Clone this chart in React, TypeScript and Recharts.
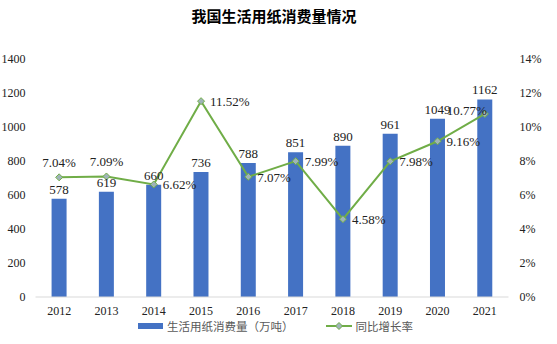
import {
  Bar,
  ComposedChart,
  LabelList,
  Line,
  XAxis,
  YAxis,
} from "recharts";

const years = ["2012", "2013", "2014", "2015", "2016", "2017", "2018", "2019", "2020", "2021"];
const consumption = [578, 619, 660, 736, 788, 851, 890, 961, 1049, 1162];
const growth = [7.04, 7.09, 6.62, 11.52, 7.07, 7.99, 4.58, 7.98, 9.16, 10.77];
const leftTicks = [0, 200, 400, 600, 800, 1000, 1200, 1400];
const rightTicks = [0, 2, 4, 6, 8, 10, 12, 14];
// where each growth label sits relative to its point
const growthLabelPos = ["top", "top", "right", "right", "right", "right", "right", "right", "right", "left"];

const data = years.map((year, i) => ({
  year,
  consumption: consumption[i],
  growth: growth[i],
}));

const serif = '"Times New Roman", "Liberation Serif", serif';
const cjk = '"Noto Sans CJK SC", sans-serif';

const BLUE = "#4472C4";
const GREEN = "#70AD47";

function Diamond(props: any) {
  const { cx, cy } = props;
  if (cx == null || cy == null) return null;
  const r = 3.5;
  return (
    <path
      d={`M${cx},${cy - r}L${cx + r},${cy}L${cx},${cy + r}L${cx - r},${cy}Z`}
      fill="#9fb4b8"
      stroke={GREEN}
      strokeWidth={1}
    />
  );
}

function GrowthLabel(props: any) {
  const { x, y, index, value } = props;
  const pos = growthLabelPos[index];
  let tx = x;
  let ty = y;
  let anchor: "start" | "middle" | "end" = "middle";
  if (pos === "top") {
    ty = y - 13;
  } else if (pos === "right") {
    tx = x + 9;
    ty = y + 2;
    anchor = "start";
  } else {
    tx = x + 2;
    ty = y - 2;
    anchor = "end";
  }
  return (
    <text
      x={tx}
      y={ty}
      textAnchor={anchor}
      dominantBaseline="middle"
      fontFamily={serif}
      fontSize={13}
      fill="#222"
    >
      {`${Number(value).toFixed(2)}%`}
    </text>
  );
}

export default function App() {
  return (
    <div style={{ position: "absolute", left: 0, top: 0, width: 557, height: 344, background: "#fff" }}>
      <div
        style={{
          position: "absolute",
          top: 5,
          left: 0,
          width: 548,
          textAlign: "center",
          fontFamily: cjk,
          fontWeight: 700,
          fontSize: 15,
          color: "#000",
        }}
      >
        我国生活用纸消费量情况
      </div>
      <ComposedChart
        width={557}
        height={344}
        data={data}
        margin={{ top: 59, right: 0, left: 0, bottom: 0 }}
        barCategoryGap="34%"
      >
        <XAxis
          dataKey="year"
          height={47}
          axisLine={{ stroke: "#D9D9D9" }}
          tickLine={false}
          tickSize={0}
          tickMargin={9}
          tick={{ fontFamily: serif, fontSize: 12, fill: "#222" }}
        />
        <YAxis
          yAxisId="left"
          width={35.5}
          domain={[0, 1400]}
          ticks={leftTicks}
          axisLine={false}
          tickLine={false}
          tickSize={0}
          tickMargin={10}
          tick={{ fontFamily: serif, fontSize: 12, fill: "#222" }}
        />
        <YAxis
          yAxisId="right"
          orientation="right"
          width={48.5}
          domain={[0, 14]}
          ticks={rightTicks}
          axisLine={false}
          tickLine={false}
          tickSize={0}
          tickMargin={11}
          tickFormatter={(v) => `${v}%`}
          tick={{ fontFamily: serif, fontSize: 12, fill: "#222" }}
        />
        <Bar yAxisId="left" dataKey="consumption" fill={BLUE} isAnimationActive={false}>
          <LabelList
            dataKey="consumption"
            position="top"
            offset={5}
            style={{ fontFamily: serif, fontSize: 13, fill: "#222" }}
          />
        </Bar>
        <Line
          yAxisId="right"
          dataKey="growth"
          stroke={GREEN}
          strokeWidth={2}
          dot={<Diamond />}
          activeDot={false}
          isAnimationActive={false}
        >
          <LabelList dataKey="growth" content={<GrowthLabel />} />
        </Line>
      </ComposedChart>
      <div
        style={{
          position: "absolute",
          top: 318,
          left: 138,
          display: "flex",
          alignItems: "center",
          fontFamily: cjk,
          fontSize: 11.5,
          color: "#595959",
          whiteSpace: "nowrap",
        }}
      >
        <span style={{ display: "inline-block", width: 25, height: 6, background: BLUE, marginRight: 4 }} />
        <span>生活用纸消费量（万吨）</span>
        <svg width={26} height={10} style={{ marginLeft: 32, marginRight: 4 }}>
          <line x1={0} y1={5} x2={26} y2={5} stroke={GREEN} strokeWidth={2} />
          <path d="M13,1.5L16.5,5L13,8.5L9.5,5Z" fill="#9fb4b8" stroke={GREEN} />
        </svg>
        <span>同比增长率</span>
      </div>
    </div>
  );
}
